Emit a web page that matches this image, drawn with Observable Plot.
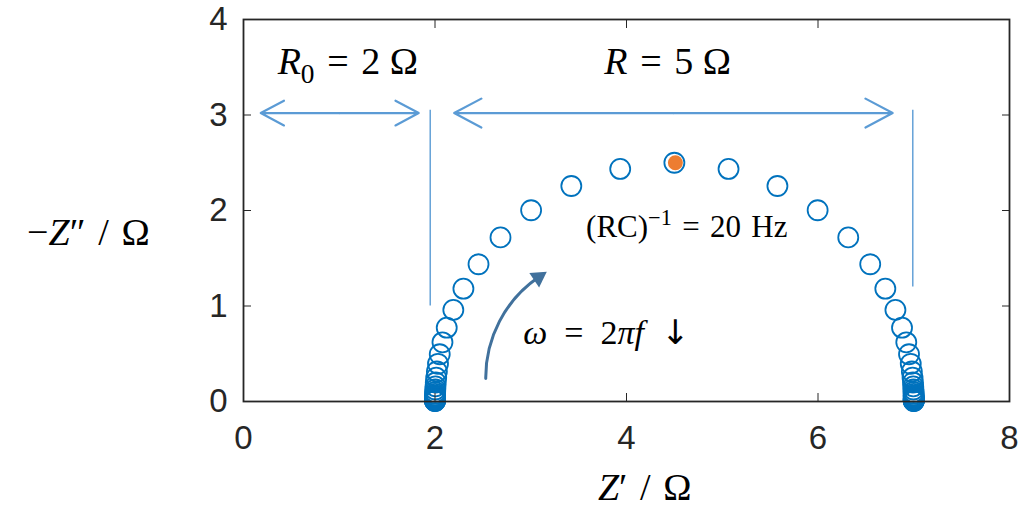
<!DOCTYPE html>
<html>
<head>
<meta charset="utf-8">
<script src="https://cdn.jsdelivr.net/npm/d3@7"></script>
<script src="https://cdn.jsdelivr.net/npm/@observablehq/plot@0.6"></script>
<style>
  body { margin: 0; background: #fff; }
  #chart svg { display: block; }
</style>
</head>
<body>
<div id="chart"></div>
<script>
// Nyquist plot of an R0 + (R || C) circuit, sampled 10 points per decade
const zReal = [
  2.0000, 2.0000, 2.0000, 2.0000, 2.0000, 2.0001, 2.0001, 2.0001, 2.0002, 2.0003,
  2.0005, 2.0008, 2.0013, 2.0020, 2.0032, 2.0050, 2.0079, 2.0125, 2.0198, 2.0313,
  2.0495, 2.0780, 2.1225, 2.1914, 2.2968, 2.4545, 2.6840, 3.0038, 3.4237, 3.9343,
  4.5000,
  5.0657, 5.5763, 5.9962, 6.3160, 6.5455, 6.7032, 6.8086, 6.8775, 6.9220, 6.9505,
  6.9687, 6.9802, 6.9875, 6.9921, 6.9950, 6.9968, 6.9980, 6.9987, 6.9992, 6.9995,
  6.9997, 6.9998, 6.9999, 6.9999, 6.9999, 7.0000, 7.0000, 7.0000, 7.0000, 7.0000
];
const zImag = [
  0.0050, 0.0063, 0.0079, 0.0100, 0.0126, 0.0158, 0.0199, 0.0251, 0.0315, 0.0397,
  0.0500, 0.0629, 0.0792, 0.0997, 0.1255, 0.1580, 0.1987, 0.2500, 0.3142, 0.3947,
  0.4950, 0.6196, 0.7730, 0.9594, 1.1814, 1.4374, 1.7182, 2.0028, 2.2565, 2.4352,
  2.5000,
  2.4352, 2.2565, 2.0028, 1.7182, 1.4374, 1.1814, 0.9594, 0.7730, 0.6196, 0.4950,
  0.3947, 0.3142, 0.2500, 0.1987, 0.1580, 0.1255, 0.0997, 0.0792, 0.0629, 0.0500,
  0.0397, 0.0315, 0.0251, 0.0199, 0.0158, 0.0126, 0.0100, 0.0079, 0.0063, 0.0050
];

// Apex of the semicircle: ω = 1/(RC)
const peakReal = [4.5];
const peakImag = [2.5];

const xTicks = [0, 2, 4, 6, 8];
const yTicks = [0, 1, 2, 3, 4];

// Dimension lines for R0 and R
const spanStart = [0.18, 2.20];
const spanEnd = [1.83, 6.78];
const spanLevel = [3.02, 3.02];

// Thin guide lines marking Z' = R0 and Z' = R0 + R
const guideX = [1.95, 6.99];
const guideTop = [3.05, 3.05];
const guideBottom = [1.00, 1.20];

// Curved arrow showing the direction of decreasing frequency
const sweepFrom = [2.53, 0.24];
const sweepTo = [3.08, 1.30];

// Annotation texts and their anchors
const noteText = ["R0 = 2 Ω", "R = 5 Ω"];
const noteX = [1.09, 4.43];
const noteY = [3.555, 3.555];
const rcText = ["(RC)-1 = 20 Hz"];
const rcX = [4.63];
const rcY = [1.83];
const omegaText = ["ω = 2πf ↓"];
const omegaX = [3.79];
const omegaY = [0.72];
const titleText = ["Z′ / Ω", "−Z″ / Ω"];
const titleX = [4.19, -1.62];
const titleY = [-0.90, 1.77];

const blue = "#0072BD";
const orange = "#ED7D31";
const lightBlue = "#5B9BD5";
const steel = "#41719C";
const ink = "#262626";
const mathFont = "Liberation Serif";

const points = zReal.map((re, i) => ({re, im: zImag[i]}));
const peak = peakReal.map((re, i) => ({re, im: peakImag[i]}));
const halves = spanStart.flatMap((s, i) => {
  const mid = (s + spanEnd[i]) / 2;
  return [
    {x1: mid, x2: s, y: spanLevel[i]},
    {x1: mid, x2: spanEnd[i], y: spanLevel[i]}
  ];
});
const guides = guideX.map((x, i) => ({x, y1: guideBottom[i], y2: guideTop[i]}));
const sweep = [{x1: sweepFrom[0], y1: sweepFrom[1], x2: sweepTo[0], y2: sweepTo[1]}];
const notes = noteText.map((text, i) => ({text, x: noteX[i], y: noteY[i]}));
const rcNotes = rcText.map((text, i) => ({text, x: rcX[i], y: rcY[i]}));
const omegaNotes = omegaText.map((text, i) => ({text, x: omegaX[i], y: omegaY[i]}));
const titles = titleText.map((text, i) => ({text, x: titleX[i], y: titleY[i]}));

const textStyle = {text: "text", x: "x", y: "y", textAnchor: "middle", lineAnchor: "middle",
  fontFamily: mathFont, fill: "#000"};

const chart = Plot.plot({
  width: 1019,
  height: 509,
  marginLeft: 243,
  marginRight: 10,
  marginTop: 19,
  marginBottom: 108,
  x: {domain: [0, 8]},
  y: {domain: [0, 4]},
  style: {fontFamily: "Liberation Sans", fontSize: "33px", color: ink, background: "#fff"},
  marks: [
    Plot.ruleX(guides, {x: "x", y1: "y1", y2: "y2", stroke: lightBlue, strokeWidth: 1.4}),
    Plot.arrow(halves, {x1: "x1", x2: "x2", y1: "y", y2: "y", stroke: lightBlue,
      strokeWidth: 2.2, headLength: 21, headAngle: 56}),
    Plot.dot(points, {x: "re", y: "im", r: 10, stroke: blue, strokeWidth: 1.8, fill: "none"}),
    Plot.dot(peak, {x: "re", y: "im", r: 7.5, fill: orange, dx: 1}),
    Plot.arrow(sweep, {x1: "x1", y1: "y1", x2: "x2", y2: "y2", bend: 28, headLength: 0,
      stroke: steel, strokeWidth: 3}),
    Plot.dot(sweep, {x: "x2", y: "y2", symbol: "triangle", r: 6.5, rotate: 56, fill: steel}),
    Plot.text(notes, {...textStyle, fontSize: 38, className: "rich"}),
    Plot.text(rcNotes, {...textStyle, fontSize: 31, className: "rich"}),
    Plot.text(omegaNotes, {...textStyle, fontSize: 34, className: "rich"}),
    Plot.text(titles, {...textStyle, fontSize: 38, className: "rich"}),
    Plot.axisX({ticks: xTicks, tickSize: 0, tickPadding: 24, label: null, tickFormat: d => d}),
    Plot.axisY({ticks: yTicks, tickSize: 0, tickPadding: 16, label: null, tickFormat: d => d}),
    Plot.axisX({anchor: "bottom", ticks: xTicks, tickSize: -8, label: null, tickFormat: () => ""}),
    Plot.axisX({anchor: "top", ticks: xTicks, tickSize: -8, label: null, tickFormat: () => ""}),
    Plot.axisY({anchor: "left", ticks: yTicks, tickSize: -8, label: null, tickFormat: () => ""}),
    Plot.axisY({anchor: "right", ticks: yTicks, tickSize: -8, label: null, tickFormat: () => ""}),
    Plot.frame({stroke: ink, strokeWidth: 1.8})
  ]
});

document.getElementById("chart").appendChild(chart);

// Typeset the math annotations: italic symbols, sub- and superscripts, math spacing
const sp = "\u2004";
const wide = "\u2002";
const richParts = {
  "R0 = 2 Ω": [{t: "R", i: 1}, {t: "0", sub: 1}, {t: `${sp}=${sp}2 Ω`}],
  "R = 5 Ω": [{t: "R", i: 1}, {t: `${sp}=${sp}5 Ω`}],
  "(RC)-1 = 20 Hz": [{t: "(RC)"}, {t: "−1", sup: 1}, {t: `${sp}=${sp}20${sp}Hz`}],
  "ω = 2πf ↓": [{t: "ω", i: 1}, {t: `${wide}=${wide}2`}, {t: "πf", i: 1}, {t: wide},
    {t: "↓", font: "DejaVu Sans"}],
  "Z′ / Ω": [{t: "Z", i: 1}, {t: `′${sp}/${sp}Ω`}],
  "−Z″ / Ω": [{t: "−"}, {t: "Z", i: 1}, {t: `″${sp}/${sp}Ω`}]
};
const ns = "http://www.w3.org/2000/svg";
d3.select(chart).selectAll(".rich text").each(function () {
  const parts = richParts[this.textContent];
  if (!parts) return;
  const size = parseFloat(this.getAttribute("font-size") || getComputedStyle(this).fontSize);
  this.textContent = "";
  let shift = 0;
  for (const p of parts) {
    const ts = document.createElementNS(ns, "tspan");
    const target = p.sub ? 0.22 * size : p.sup ? -0.38 * size : 0;
    if (target !== shift) ts.setAttribute("dy", target - shift);
    shift = target;
    if (p.sub || p.sup) ts.setAttribute("font-size", 0.72 * size);
    if (p.i) ts.setAttribute("font-style", "italic");
    if (p.font) ts.setAttribute("font-family", p.font);
    ts.textContent = p.t;
    this.appendChild(ts);
  }
});
</script>
</body>
</html>
